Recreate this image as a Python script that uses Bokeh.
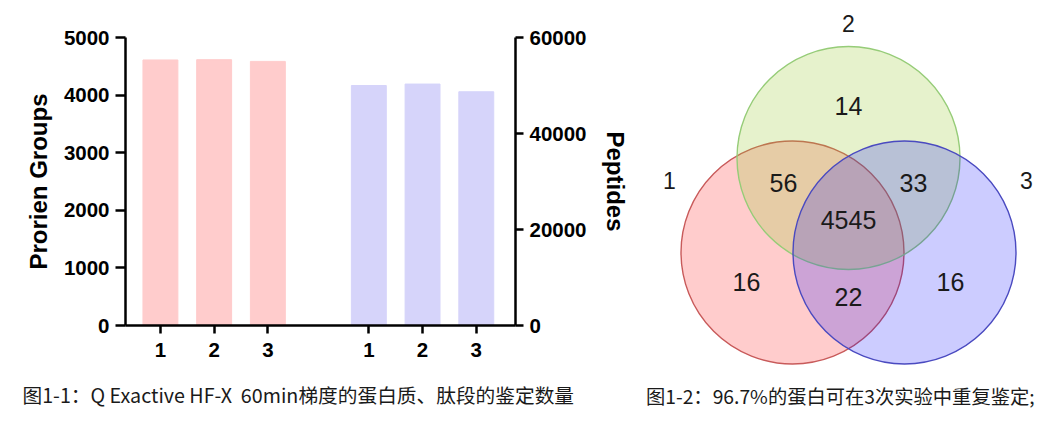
from bokeh.plotting import figure
from bokeh.models import ColumnDataSource, Range1d, LinearAxis, FixedTicker, Label
from bokeh.layouts import row, column
from bokeh.embed import file_html
from bokeh.resources import INLINE
from bokeh.core.properties import value

# ---------------- data ----------------
replicates = ["1", "2", "3"]
protein_groups = [4610, 4615, 4585]
peptides = [50000, 50300, 48700]
left_ticks = [0, 1000, 2000, 3000, 4000, 5000]
right_ticks = [0, 20000, 40000, 60000]
left_title = "Prorien Groups"
right_title = "Peptides"
caption1 = "图1-1：Q Exactive HF-X\u00a0 60min梯度的蛋白质、肽段的鉴定数量"
caption2 = "图1-2：96.7%的蛋白可在3次实验中重复鉴定;"

set_names = ["1", "2", "3"]
region_keys = ["1", "2", "3", "12", "23", "13", "123"]
region_counts = [16, 14, 16, 56, 33, 22, 4545]

# ---------------- layout / style ----------------
FONT = "Liberation Sans"
CJK = "Noto Sans CJK SC"
group_gap = 3.88
bar_w = 0.65
pink = "#FFCCCC"
lav = "#D6D4FA"
H = 418
FRAME_L, FRAME_R, FRAME_T, FRAME_B = 125, 515, 37, 325
BAR_W = 640
BAR_H = 370

pink_x = [i + 1 for i in range(len(replicates))]
blue_x = [i + 1 + group_gap for i in range(len(replicates))]
x0, x1 = 0.35, blue_x[-1] + 0.73

# ---------------- bar chart ----------------
p = figure(width=BAR_W, height=BAR_H, output_backend="svg", toolbar_location=None,
           x_range=Range1d(x0, x1), y_range=Range1d(0, 5000),
           min_border_left=FRAME_L, min_border_right=BAR_W - FRAME_R,
           min_border_top=FRAME_T, min_border_bottom=BAR_H - FRAME_B,
           x_axis_location=None, y_axis_location=None)
p.outline_line_color = None
p.grid.visible = False
p.extra_y_ranges = {"pep": Range1d(0, 60000)}

p.vbar(x=pink_x, top=protein_groups, width=bar_w, color=pink)
p.vbar(x=blue_x, top=peptides, width=bar_w, color=lav, y_range_name="pep")


def style_axis(ax, tick_out):
    ax.axis_line_width = 2.5
    ax.axis_line_color = "black"
    ax.major_tick_line_width = 2.5
    ax.major_tick_line_color = "black"
    ax.major_tick_out = tick_out
    ax.major_tick_in = 0
    ax.minor_tick_line_color = None
    ax.major_label_text_font = FONT
    ax.major_label_text_font_style = "bold"
    ax.major_label_text_font_size = "20.5px"
    ax.major_label_text_color = "black"
    ax.axis_label_text_font = FONT
    ax.axis_label_text_font_style = "bold"
    ax.axis_label_text_font_size = "24px"
    ax.axis_label_text_color = "black"


xpos = pink_x + blue_x
xax = LinearAxis(ticker=FixedTicker(ticks=xpos),
                 major_label_overrides={x: lab for x, lab in zip(xpos, replicates + replicates)})
style_axis(xax, 8)
xax.major_label_standoff = 9
p.add_layout(xax, "below")

lax = LinearAxis(ticker=FixedTicker(ticks=left_ticks), axis_label=left_title)
style_axis(lax, 10)
lax.major_label_standoff = 6
lax.axis_label_standoff = 9
p.add_layout(lax, "left")

rax = LinearAxis(ticker=FixedTicker(ticks=right_ticks), axis_label=right_title, y_range_name="pep")
style_axis(rax, 8)
rax.major_label_standoff = 6
rax.axis_label_standoff = 12
p.add_layout(rax, "right")

# ---------------- caption 1 strip ----------------
c = figure(width=BAR_W, height=H - BAR_H, output_backend="svg", toolbar_location=None,
           x_range=Range1d(0, BAR_W), y_range=Range1d(H, BAR_H),
           min_border=0, x_axis_location=None, y_axis_location=None)
c.outline_line_color = None
c.grid.visible = False
c.text(x=[22], y=[394], text=[caption1], text_font=value(CJK), text_font_size="19.7px",
       text_color="#1a1a1a", text_baseline="middle", text_align="left")

# ---------------- venn ----------------
VX = 848   # page x of local origin
VY = 220   # page y of local origin
v = figure(width=1049 - BAR_W, height=H, output_backend="svg", toolbar_location=None,
           x_range=Range1d(BAR_W - VX, 1049 - VX), y_range=Range1d(VY - H, VY),
           min_border=0, x_axis_location=None, y_axis_location=None)
v.outline_line_color = None
v.grid.visible = False

R = 111.5
circ = ColumnDataSource(dict(
    x=[-56, 0, 56], y=[-32, 62.5, -32],
    fill=["#FF0000", "#9ACD32", "#0000FF"],
    alpha=[0.2, 0.25, 0.2],
    line=["#C85A5A", "#96CC78", "#4A4AC0"],
))
v.circle(x="x", y="y", radius=R, fill_color="fill", fill_alpha="alpha",
         line_color="line", line_width=1.4, source=circ)

set_pos = {"1": (-179, 40), "2": (0, 197), "3": (178, 40)}
v.text(x=[set_pos[s][0] for s in set_names], y=[set_pos[s][1] for s in set_names],
       text=set_names, text_font=value(FONT), text_font_size="23px", text_color="#1a1a1a",
       text_align="center", text_baseline="middle")

reg_pos = {"1": (-102, -61), "2": (0, 115), "3": (102, -61), "12": (-65, 38),
           "23": (65, 38), "13": (0, -76), "123": (0, 1)}
v.text(x=[reg_pos[k][0] for k in region_keys], y=[reg_pos[k][1] for k in region_keys],
       text=[str(c_) for c_ in region_counts], text_font=value(FONT), text_font_size="25px",
       text_color="#1a1a1a", text_align="center", text_baseline="middle")

v.add_layout(Label(x=-202.5, y=-175, text=caption2, text_font=CJK, text_font_size="19.3px",
                   text_color="#1a1a1a", text_baseline="middle", text_align="left"))

layout = row(column(p, row(c)), column(v))
open("out.html", "w").write(file_html(layout, INLINE))
